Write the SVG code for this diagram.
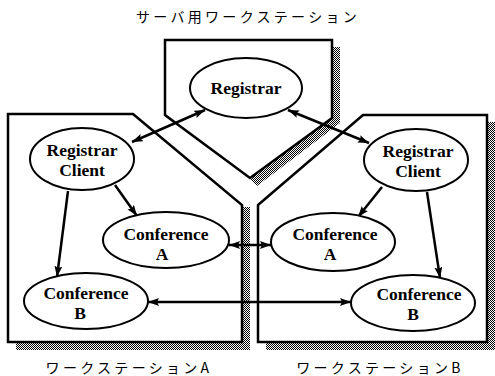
<svg xmlns="http://www.w3.org/2000/svg" width="495" height="376" viewBox="0 0 495 376">
<defs>
<pattern id="dots" width="2" height="2" patternUnits="userSpaceOnUse">
<rect width="2" height="2" fill="#ffffff"/>
<rect width="1" height="1" fill="#000000"/>
<rect x="1" y="1" width="1" height="1" fill="#000000"/>
</pattern>
<marker id="ah" markerUnits="userSpaceOnUse" markerWidth="12" markerHeight="10" refX="11" refY="4" orient="auto-start-reverse">
<path d="M0,0 L11,4 L0,8 L2,4 Z" fill="#000"/>
</marker>
<style>
.box{fill:#fff;stroke:#000;stroke-width:2.5;stroke-linejoin:miter}
.shadow{fill:url(#dots);stroke:none}
.node{fill:#fff;stroke:#000;stroke-width:2}
.lbl{font-family:"Liberation Serif","Times New Roman",serif;font-weight:bold;font-size:17.5px;text-anchor:middle;fill:#000}
.cap{font-family:"Noto Sans CJK JP","Noto Sans CJK SC",sans-serif;font-size:14px;letter-spacing:3.3px;text-anchor:middle;fill:#000}
.conn{fill:none;stroke:#000;stroke-width:2.5}
</style>
</defs>

<g id="server-workstation">
<polygon class="shadow" points="332,47 340,47 340,123 257,186 250,179 332,118"/>
<polygon class="box" points="165,40 332,40 332,118 250,178 165,115"/>
<text class="cap" x="248" y="22">サーバ用ワークステーション</text>
</g>

<g id="workstation-a">
<polygon class="shadow" points="242,207 250,207 250,350 16,350 16,342 242,342"/>
<polygon class="box" points="8,114 133,114 242,205 242,342 8,342"/>
<text class="cap" x="129" y="373">ワークステーションA</text>
</g>

<g id="workstation-b">
<polygon class="shadow" points="487,122 495,122 495,350 266,350 266,342 487,342"/>
<polygon class="box" points="258,205 363,115 487,115 487,342 258,342"/>
<text class="cap" x="380" y="373">ワークステーションB</text>
</g>

<g id="connectors">
<line class="conn" x1="205" y1="110" x2="132" y2="142" marker-start="url(#ah)" marker-end="url(#ah)"/>
<line class="conn" x1="288" y1="110" x2="369" y2="143" marker-start="url(#ah)" marker-end="url(#ah)"/>
<line class="conn" x1="115" y1="185" x2="137" y2="216" marker-end="url(#ah)"/>
<line class="conn" x1="68" y1="191" x2="57" y2="277" marker-end="url(#ah)"/>
<line class="conn" x1="382" y1="187" x2="358" y2="217" marker-end="url(#ah)"/>
<line class="conn" x1="427" y1="192" x2="440" y2="278" marker-end="url(#ah)"/>
<line class="conn" x1="229" y1="245" x2="271" y2="245" marker-start="url(#ah)" marker-end="url(#ah)"/>
<line class="conn" x1="148" y1="302" x2="351" y2="302" marker-start="url(#ah)" marker-end="url(#ah)"/>
</g>

<g id="registrar">
<ellipse class="node" cx="246" cy="88" rx="56" ry="30"/>
<text class="lbl" x="246" y="94">Registrar</text>
</g>

<g id="registrar-client-a">
<ellipse class="node" cx="82" cy="159" rx="52" ry="31"/>
<text class="lbl" x="82" y="156">Registrar</text>
<text class="lbl" x="82" y="176">Client</text>
</g>

<g id="registrar-client-b">
<ellipse class="node" cx="416" cy="160" rx="52" ry="31"/>
<text class="lbl" x="418" y="157">Registrar</text>
<text class="lbl" x="418" y="177">Client</text>
</g>

<g id="conference-a-left">
<ellipse class="node" cx="166" cy="240" rx="63" ry="28"/>
<text class="lbl" x="166" y="240">Conference</text>
<text class="lbl" x="162" y="260">A</text>
</g>

<g id="conference-b-left">
<ellipse class="node" cx="86" cy="301" rx="62" ry="28"/>
<text class="lbl" x="86" y="299">Conference</text>
<text class="lbl" x="80" y="319">B</text>
</g>

<g id="conference-a-right">
<ellipse class="node" cx="333" cy="242" rx="62" ry="29"/>
<text class="lbl" x="335" y="240">Conference</text>
<text class="lbl" x="330" y="260">A</text>
</g>

<g id="conference-b-right">
<ellipse class="node" cx="413" cy="303" rx="62" ry="28"/>
<text class="lbl" x="419" y="300">Conference</text>
<text class="lbl" x="413" y="320">B</text>
</g>
</svg>
